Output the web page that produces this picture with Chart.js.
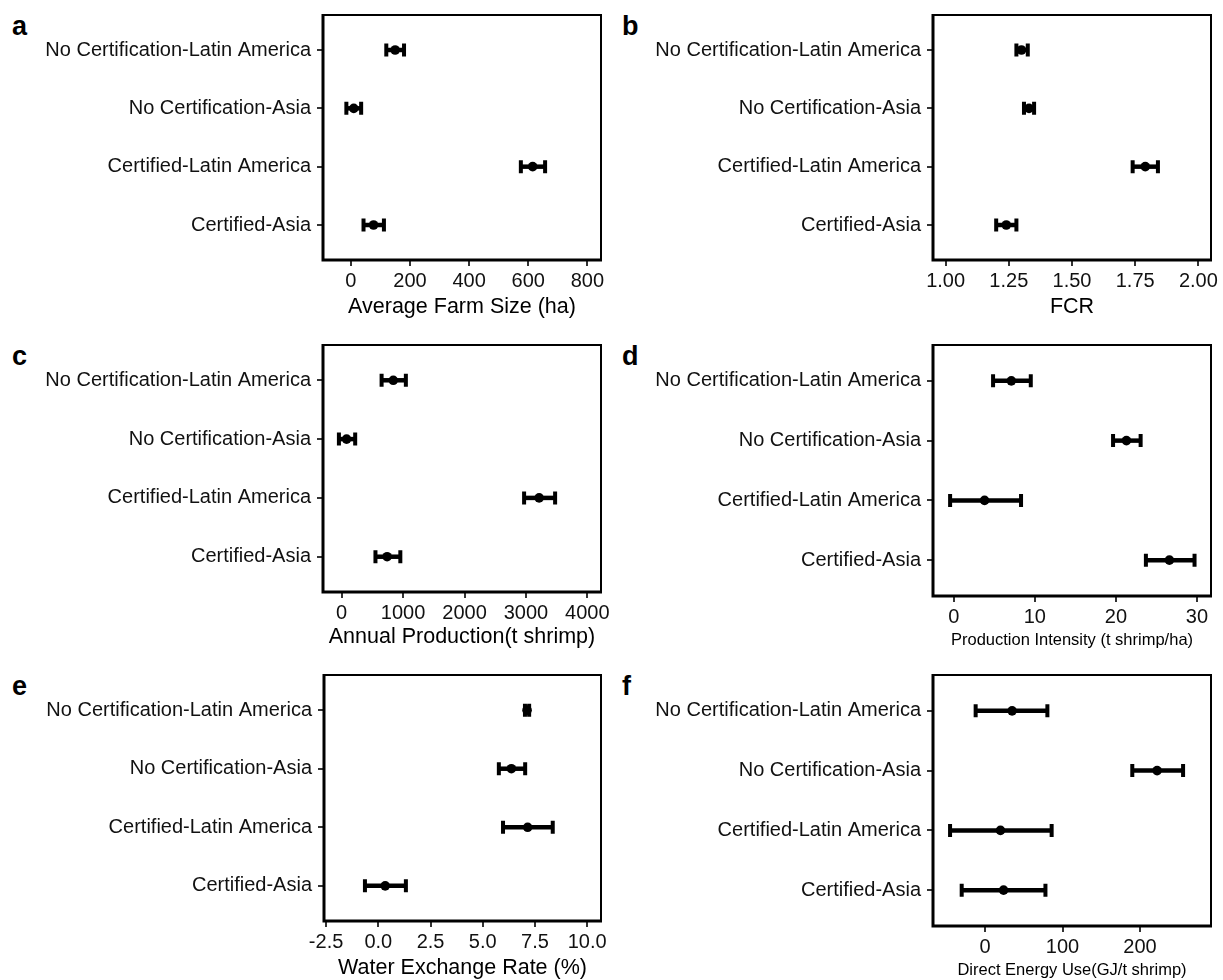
<!DOCTYPE html>
<html>
<head>
<meta charset="utf-8">
<script src="https://cdn.jsdelivr.net/npm/chart.js@4.4.1/dist/chart.umd.min.js"></script>
<style>
  body { margin: 0; background: #fff; width: 1223px; height: 980px; position: relative; overflow: hidden; }
  canvas { position: absolute; }
  .tag { position: absolute; font: bold 27px "Liberation Sans", Arial, sans-serif; line-height: 1; color: #000; }
</style>
</head>
<body>
<div class="tag" style="left:12px;top:13px">a</div>
<div class="tag" style="left:622px;top:13px">b</div>
<div class="tag" style="left:12px;top:343px">c</div>
<div class="tag" style="left:622px;top:343px">d</div>
<div class="tag" style="left:12px;top:673px">e</div>
<div class="tag" style="left:622px;top:673px">f</div>
<canvas id="pa"></canvas>
<canvas id="pb"></canvas>
<canvas id="pc"></canvas>
<canvas id="pd"></canvas>
<canvas id="pe"></canvas>
<canvas id="pf"></canvas>
<script>
const groups = ['No Certification-Latin America', 'No Certification-Asia', 'Certified-Latin America', 'Certified-Asia']

// means and error bar ends
const farmSize = [150, 10, 615, 77]
const farmSizeLow = [120, -15, 575, 43]
const farmSizeHigh = [180, 35, 657, 112]

const fcr = [1.30, 1.33, 1.79, 1.24]
const fcrLow = [1.28, 1.31, 1.74, 1.20]
const fcrHigh = [1.325, 1.35, 1.84, 1.28]

const production = [840, 80, 3215, 740]
const productionLow = [650, -45, 2970, 550]
const productionHigh = [1045, 220, 3475, 955]

const intensity = [7.1, 21.3, 3.8, 26.6]
const intensityLow = [4.85, 19.65, -0.45, 23.7]
const intensityHigh = [9.5, 23.05, 8.3, 29.7]

const water = [7.12, 6.37, 7.15, 0.33]
const waterLow = [7.02, 5.77, 5.97, -0.64]
const waterHigh = [7.22, 7.03, 8.35, 1.32]

const energy = [35, 222, 20, 24]
const energyLow = [-12, 190, -45, -30]
const energyHigh = [80.5, 255.5, 86, 78]

// x tick labels
const farmSizeTicks = [0, 200, 400, 600, 800]
const fcrTicks = [1, 1.25, 1.5, 1.75, 2]
const productionTicks = [0, 1000, 2000, 3000, 4000]
const intensityTicks = [0, 10, 20, 30]
const waterTicks = [-2.5, 0, 2.5, 5, 7.5, 10]
const energyTicks = [0, 100, 200]

const FONT = '"Liberation Sans", Arial, sans-serif'

// error bars + frame, drawn with the chart's own scales
const errorBars = {
  id: 'errorBars',
  beforeDatasetsDraw(chart) {
    const {ctx, scales: {x, y}} = chart
    const ds = chart.data.datasets[0]
    ctx.save()
    ctx.strokeStyle = '#000'
    ds.data.forEach((p, i) => {
      const py = y.getPixelForValue(p.y)
      const x0 = x.getPixelForValue(ds.low[i])
      const x1 = x.getPixelForValue(ds.high[i])
      ctx.lineWidth = 4.5
      ctx.beginPath()
      ctx.moveTo(x0, py)
      ctx.lineTo(x1, py)
      ctx.stroke()
      ctx.lineWidth = 4
      ctx.beginPath()
      ctx.moveTo(x0, py - 6.5)
      ctx.lineTo(x0, py + 6.5)
      ctx.moveTo(x1, py - 6.5)
      ctx.lineTo(x1, py + 6.5)
      ctx.stroke()
    })
    ctx.restore()
  },
  afterDraw(chart) {
    const {ctx, chartArea: a} = chart
    ctx.save()
    ctx.strokeStyle = '#000'
    ctx.lineWidth = 2
    ctx.beginPath()
    ctx.moveTo(a.left, a.top)
    ctx.lineTo(a.right, a.top)
    ctx.lineTo(a.right, a.bottom)
    ctx.stroke()
    ctx.lineWidth = 3
    ctx.beginPath()
    ctx.moveTo(a.left, a.top - 1)
    ctx.lineTo(a.left, a.bottom)
    ctx.lineTo(a.right + 1, a.bottom)
    ctx.stroke()
    ctx.restore()
  }
}

function makePanel(id, p) {
  const canvas = document.getElementById(id)
  const width = p.frame[1] + 10 - p.left
  const height = Math.round(p.titleY + p.titleSize / 2 + 2 - p.top)
  canvas.width = width
  canvas.height = height
  canvas.style.left = p.left + 'px'
  canvas.style.top = p.top + 'px'

  const points = p.values.map((v, i) => ({x: v, y: i + 1}))

  return new Chart(canvas, {
    type: 'scatter',
    data: {
      datasets: [{
        data: points,
        low: p.low,
        high: p.high,
        backgroundColor: '#000',
        borderColor: '#000',
        pointRadius: 4.8,
        borderWidth: 0
      }]
    },
    options: {
      responsive: false,
      animation: false,
      layout: {padding: {left: 0, top: p.frame[2] - p.top, right: 10, bottom: 0}},
      plugins: {legend: {display: false}, tooltip: {enabled: false}},
      scales: {
        x: {
          type: 'linear',
          min: p.min,
          max: p.max,
          afterBuildTicks: s => { s.ticks = p.ticks.map(v => ({value: v})) },
          afterFit: s => {
            s.height = height - (p.frame[3] - p.top)
            s.paddingLeft = 0
            s.paddingRight = 0
          },
          grid: {display: true, drawOnChartArea: false, drawTicks: true, tickLength: 6, color: '#333', lineWidth: 2},
          border: {display: false},
          ticks: {
            color: '#111',
            font: {family: FONT, size: 20},
            padding: 3,
            maxRotation: 0,
            callback: v => v.toFixed(p.decimals)
          },
          title: {
            display: true,
            text: p.title,
            color: '#000',
            font: {family: FONT, size: p.titleSize, lineHeight: 1},
            padding: {top: 0, bottom: 2}
          }
        },
        y: {
          type: 'linear',
          reverse: true,
          min: 0.4,
          max: 4.6,
          afterBuildTicks: s => { s.ticks = groups.map((g, i) => ({value: i + 1})) },
          afterFit: s => {
            s.width = p.frame[0] - p.left
            s.paddingTop = 0
            s.paddingBottom = 0
          },
          grid: {display: true, drawOnChartArea: false, drawTicks: true, tickLength: 6, color: '#333', lineWidth: 2},
          border: {display: false},
          ticks: {
            color: '#111',
            font: {family: FONT, size: 20},
            padding: 6,
            callback: v => groups[v - 1]
          }
        }
      }
    },
    plugins: [errorBars]
  })
}

makePanel('pa', {left: 0, top: 0, frame: [323, 601, 15, 260], titleY: 307, titleSize: 21.5,
  title: 'Average Farm Size (ha)', values: farmSize, low: farmSizeLow, high: farmSizeHigh,
  min: -94, max: 846, ticks: farmSizeTicks, decimals: 0})

makePanel('pb', {left: 611, top: 0, frame: [933, 1211, 15, 260], titleY: 307, titleSize: 21.5,
  title: 'FCR', values: fcr, low: fcrLow, high: fcrHigh,
  min: 0.95, max: 2.05, ticks: fcrTicks, decimals: 2})

makePanel('pc', {left: 0, top: 330, frame: [323, 601, 345, 592], titleY: 637, titleSize: 21.5,
  title: 'Annual Production(t shrimp)', values: production, low: productionLow, high: productionHigh,
  min: -304, max: 4222, ticks: productionTicks, decimals: 0})

makePanel('pd', {left: 611, top: 330, frame: [933, 1211, 345, 596], titleY: 641, titleSize: 16.5,
  title: 'Production Intensity (t shrimp/ha)', values: intensity, low: intensityLow, high: intensityHigh,
  min: -2.56, max: 31.73, ticks: intensityTicks, decimals: 0})

makePanel('pe', {left: 0, top: 660, frame: [324, 601, 675, 921], titleY: 968, titleSize: 21.5,
  title: 'Water Exchange Rate (%)', values: water, low: waterLow, high: waterHigh,
  min: -2.6, max: 10.66, ticks: waterTicks, decimals: 1})

makePanel('pf', {left: 611, top: 660, frame: [933, 1211, 675, 926], titleY: 971, titleSize: 16.5,
  title: 'Direct Energy Use(GJ/t shrimp)', values: energy, low: energyLow, high: energyHigh,
  min: -67, max: 291.5, ticks: energyTicks, decimals: 0})
</script>
</body>
</html>
